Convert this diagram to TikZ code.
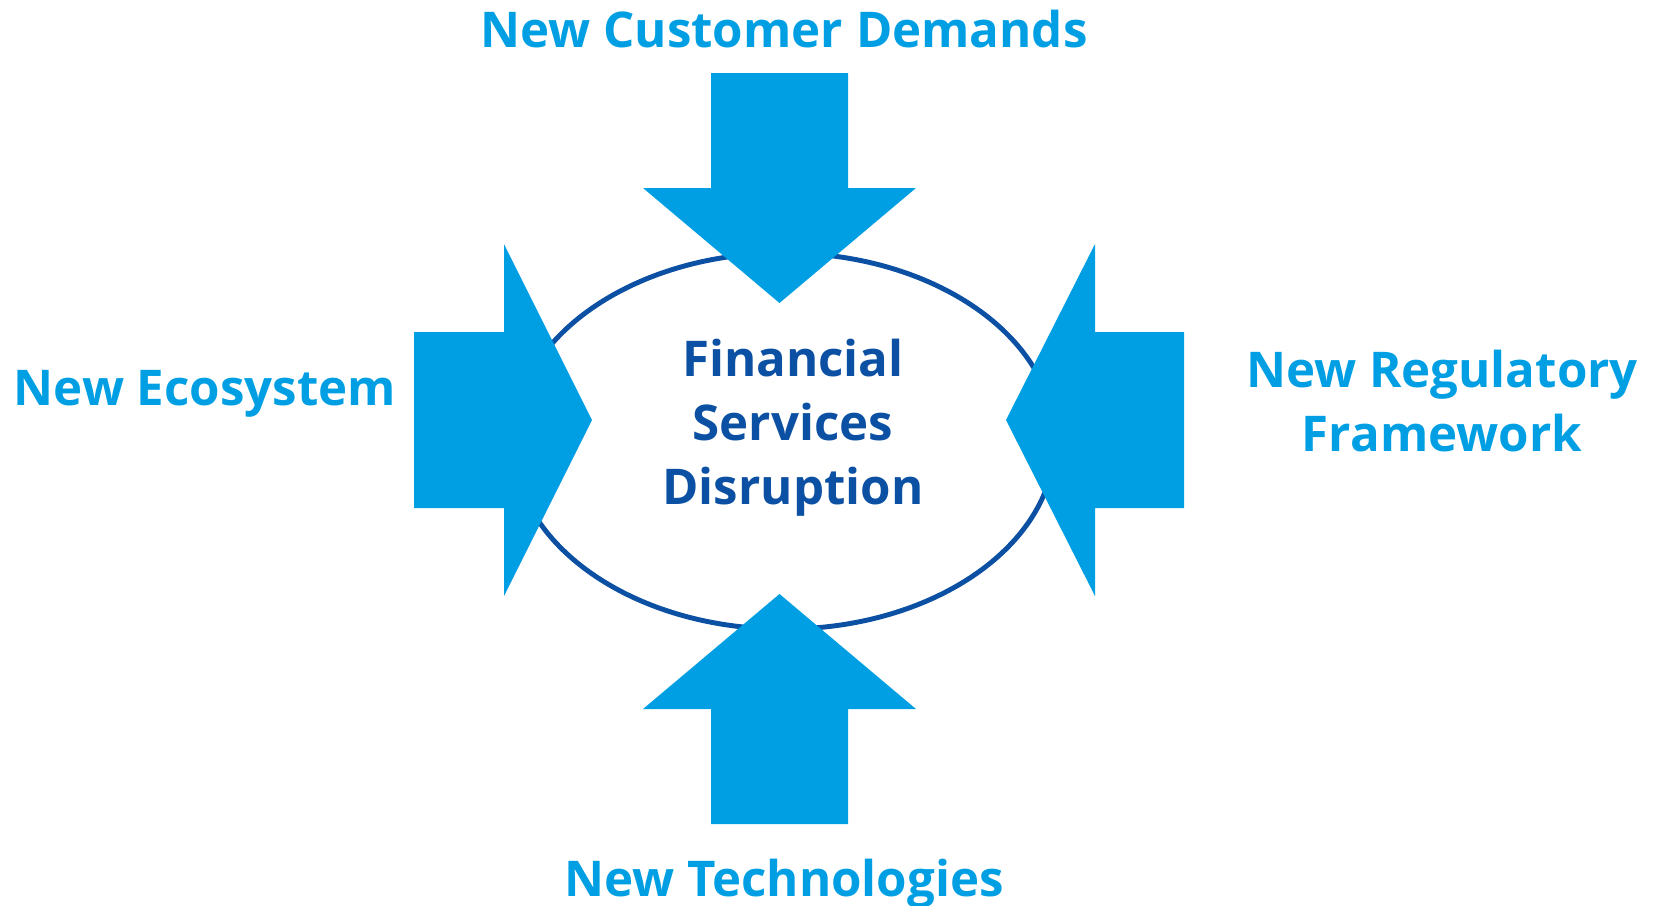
\documentclass[tikz,border=0pt]{standalone}
\usepackage{fontspec}
\setmainfont{Open Sans}
\usepackage{tikz}
\definecolor{arrowBlue}{RGB}{0,159,227}
\definecolor{deepBlue}{RGB}{12,80,163}

\tikzset{
  force text/.style={text=arrowBlue, inner sep=0pt, font=\fontsize{14}{18.2}\selectfont\bfseries},
  core text/.style={text=deepBlue, inner sep=0pt, align=center, font=\fontsize{14}{18.2}\selectfont\bfseries},
  block arrow/.style={fill=arrowBlue}
}

\begin{document}
\begin{tikzpicture}[x=0.01cm, y=-0.01cm]
            \useasboundingbox (0,0) rectangle (1656,905);

            % ring
            \draw[deepBlue, line width = 1.4pt] (784,441) ellipse (2.71cm and 1.88cm);
            \node[core text] (core) at (793,428) {Financial\\Services\\Disruption};

            % top arrow
            \fill[block arrow] (711,73) -- (848,73) -- (848,188) -- (916,188) -- (779.5,303)
                -- (643,188) -- (711,188) -- cycle;
            \node[force text, anchor=base] (demands) at (784,47) {New Customer Demands};

            % bottom arrow
            \fill[block arrow] (711,824) -- (848,824) -- (848,709) -- (916,709) -- (779.5,594)
                -- (643,709) -- (711,709) -- cycle;
            \node[force text, anchor=base] (tech) at (784,896) {New Technologies};

            % left arrow
            \fill[block arrow] (414,332) -- (504,332) -- (504,244) -- (592,420) -- (504,596)
                -- (504,508) -- (414,508) -- cycle;
            \node[force text, anchor=base] (eco) at (205,405) {New Ecosystem};

            % right arrow
            \fill[block arrow] (1184,332) -- (1095,332) -- (1095,244) -- (1006,420) -- (1095,596)
                -- (1095,508) -- (1184,508) -- cycle;
            \node[force text, align=center] (reg) at (1442,401) {New Regulatory\\Framework};

\end{tikzpicture}
\end{document}
